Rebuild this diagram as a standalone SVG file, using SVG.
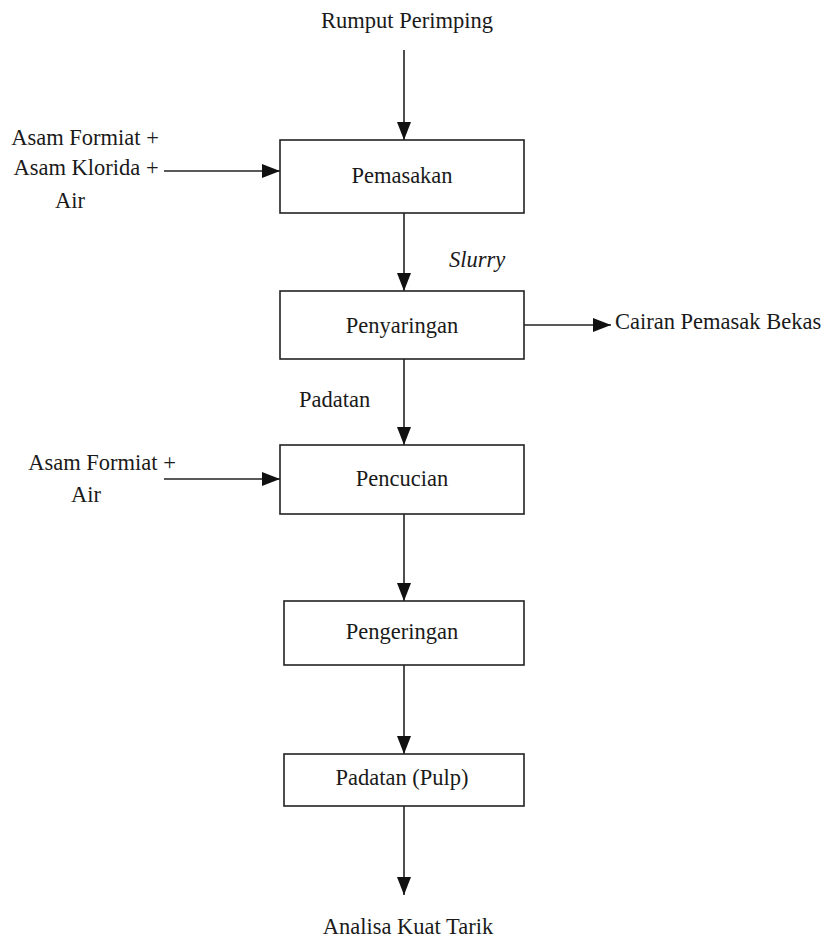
<svg xmlns="http://www.w3.org/2000/svg" width="826" height="939" viewBox="0 0 826 939">
<style>
text{font-family:"Liberation Serif","Times New Roman",serif;font-size:22.5px;fill:#1a1a1a}
.c{text-anchor:middle}
.box{fill:#fff;stroke:#222;stroke-width:1.6}
.ln{stroke:#222;stroke-width:1.6;fill:none;marker-end:url(#ah)}
</style>
<defs>
<marker id="ah" markerUnits="userSpaceOnUse" markerWidth="18" markerHeight="14" viewBox="0 0 18 14" refX="18" refY="7" orient="auto">
<path d="M0,0 L18,7 L0,14 Z" fill="#111"/>
</marker>
</defs>
<rect width="826" height="939" fill="#fff"/>
<g id="connectors">
<line class="ln" x1="404" y1="50" x2="404" y2="140"/>
<line class="ln" x1="164" y1="171" x2="280" y2="171"/>
<line class="ln" x1="404" y1="213" x2="404" y2="291"/>
<line class="ln" x1="524" y1="325" x2="611" y2="325"/>
<line class="ln" x1="404" y1="359" x2="404" y2="445"/>
<line class="ln" x1="164" y1="479" x2="280" y2="479"/>
<line class="ln" x1="404" y1="514" x2="404" y2="601"/>
<line class="ln" x1="404" y1="665" x2="404" y2="754"/>
<line class="ln" x1="404" y1="806" x2="404" y2="895"/>
</g>
<g id="src"><text class="c" x="407" y="28">Rumput Perimping</text></g>
<g id="in1"><text class="c" x="85" y="145">Asam Formiat +</text><text class="c" x="86" y="175">Asam Klorida +</text><text class="c" x="70" y="208">Air</text></g>
<g id="pemasakan"><rect class="box" x="280" y="140" width="244" height="73"/><text class="c" x="402" y="183">Pemasakan</text></g>
<g id="slurry"><text x="449" y="267" font-style="italic">Slurry</text></g>
<g id="penyaringan"><rect class="box" x="280" y="291" width="244" height="68"/><text class="c" x="402" y="333">Penyaringan</text></g>
<g id="out1"><text x="615" y="329">Cairan Pemasak Bekas</text></g>
<g id="padatan"><text x="299" y="407">Padatan</text></g>
<g id="in2"><text class="c" x="102" y="470">Asam Formiat +</text><text class="c" x="86" y="502">Air</text></g>
<g id="pencucian"><rect class="box" x="280" y="445" width="244" height="69"/><text class="c" x="402" y="486">Pencucian</text></g>
<g id="pengeringan"><rect class="box" x="284" y="601" width="240" height="64"/><text class="c" x="402" y="639">Pengeringan</text></g>
<g id="pulp"><rect class="box" x="284" y="754" width="240" height="52"/><text class="c" x="402" y="785">Padatan (Pulp)</text></g>
<g id="end"><text class="c" x="408" y="934">Analisa Kuat Tarik</text></g>
</svg>
